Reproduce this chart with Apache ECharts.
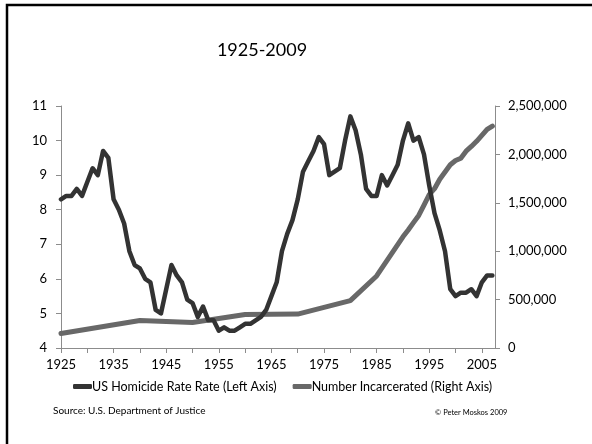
<!DOCTYPE html>
<html>
<head>
<meta charset="utf-8">
<title>1925-2009</title>
<script src="https://cdn.jsdelivr.net/npm/echarts@6/dist/echarts.min.js"></script>
<style>
  html, body { margin: 0; padding: 0; background: #fff; }
  #chart { width: 592px; height: 444px; }
</style>
</head>
<body>
<div id="chart"></div>
<script>
/* Homicide rate per 100,000, yearly */
const homicideYears = [
  1925, 1926, 1927, 1928, 1929, 1930, 1931, 1932, 1933, 1934,
  1935, 1936, 1937, 1938, 1939, 1940, 1941, 1942, 1943, 1944,
  1945, 1946, 1947, 1948, 1949, 1950, 1951, 1952, 1953, 1954,
  1955, 1956, 1957, 1958, 1959, 1960, 1961, 1962, 1963, 1964,
  1965, 1966, 1967, 1968, 1969, 1970, 1971, 1972, 1973, 1974,
  1975, 1976, 1977, 1978, 1979, 1980, 1981, 1982, 1983, 1984,
  1985, 1986, 1987, 1988, 1989, 1990, 1991, 1992, 1993, 1994,
  1995, 1996, 1997, 1998, 1999, 2000, 2001, 2002, 2003, 2004,
  2005, 2006, 2007
];
const homicideRate = [
  8.3, 8.4, 8.4, 8.6, 8.4, 8.8, 9.2, 9.0, 9.7, 9.5,
  8.3, 8.0, 7.6, 6.8, 6.4, 6.3, 6.0, 5.9, 5.1, 5.0,
  5.7, 6.4, 6.1, 5.9, 5.4, 5.3, 4.9, 5.2, 4.8, 4.8,
  4.5, 4.6, 4.5, 4.5, 4.6, 4.7, 4.7, 4.8, 4.9, 5.1,
  5.5, 5.9, 6.8, 7.3, 7.7, 8.3, 9.1, 9.4, 9.7, 10.1,
  9.9, 9.0, 9.1, 9.2, 10.0, 10.7, 10.3, 9.6, 8.6, 8.4,
  8.4, 9.0, 8.7, 9.0, 9.3, 10.0, 10.5, 10.0, 10.1, 9.6,
  8.7, 7.9, 7.4, 6.8, 5.7, 5.5, 5.6, 5.6, 5.7, 5.5,
  5.9, 6.1, 6.1
];

/* Number incarcerated (prison + jail) */
const incarceratedYears = [
  1925, 1940, 1950, 1960, 1970, 1980, 1985,
  1990, 1991, 1992, 1993, 1994, 1995, 1996, 1997, 1998, 1999,
  2000, 2001, 2002, 2003, 2004, 2005, 2006, 2007
];
const incarcerated = [
  150000, 285000, 264000, 346000, 350000, 490000, 744000,
  1149000, 1219000, 1295000, 1369000, 1477000, 1585000, 1646000, 1744000, 1817000, 1893000,
  1937000, 1961000, 2033000, 2082000, 2135000, 2196000, 2259000, 2293000
];

const xTickLabels = ['1925', '1935', '1945', '1955', '1965', '1975', '1985', '1995', '2005'];

const seriesNames = ['US Homicide Rate Rate (Left Axis)', 'Number Incarcerated (Right Axis)'];

const FONT = 'Lato, "Noto Sans", sans-serif';
const AXIS_GRAY = '#8c8c8c';

const chart = echarts.init(document.getElementById('chart'), null, { renderer: 'canvas' });

const pairs = (xs, ys) => xs.map((x, i) => [x, ys[i]]);

chart.setOption({
  animation: false,
  textStyle: { fontFamily: FONT, color: '#000' },
  title: {
    text: '1925-2009',
    left: 257,
    top: 36,
    textAlign: 'center',
    textStyle: { fontFamily: FONT, fontSize: 18, fontWeight: 'normal', color: '#000' }
  },
  legend: {
    data: seriesNames,
    left: 68,
    top: 375,
    icon: 'roundRect',
    itemWidth: 19,
    itemHeight: 5,
    itemGap: 16,
    textStyle: { fontFamily: FONT, fontSize: 12.5, color: '#000', padding: [0, 0, 0, -5] }
  },
  grid: { left: 61, right: 97, top: 106, bottom: 96 },
  xAxis: {
    type: 'value',
    min: 1925,
    max: 2007.5,
    interval: 5,
    splitLine: { show: false },
    axisLine: { lineStyle: { color: AXIS_GRAY, width: 1 } },
    axisTick: { length: 5, lineStyle: { color: AXIS_GRAY } },
    axisLabel: {
      margin: 10,
      fontFamily: FONT,
      fontSize: 13,
      color: '#000',
      showMaxLabel: false,
      formatter: (v) => (xTickLabels.includes(String(v)) ? String(v) : '')
    }
  },
  yAxis: [
    {
      type: 'value',
      min: 4,
      max: 11,
      interval: 1,
      splitLine: { show: false },
      axisLine: { show: true, lineStyle: { color: AXIS_GRAY, width: 1 } },
      axisTick: { show: true, length: 5, lineStyle: { color: AXIS_GRAY } },
      axisLabel: { margin: 14, fontFamily: FONT, fontSize: 13, color: '#000' }
    },
    {
      type: 'value',
      min: 0,
      max: 2500000,
      interval: 500000,
      position: 'right',
      splitLine: { show: false },
      axisLine: { show: true, lineStyle: { color: AXIS_GRAY, width: 1 } },
      axisTick: { show: true, length: 5, lineStyle: { color: AXIS_GRAY } },
      axisLabel: {
        margin: 13,
        fontFamily: FONT,
        fontSize: 13,
        color: '#000',
        formatter: (v) => v.toLocaleString('en-US')
      }
    }
  ],
  series: [
    {
      name: seriesNames[0],
      type: 'line',
      yAxisIndex: 0,
      data: pairs(homicideYears, homicideRate),
      showSymbol: false,
      symbol: 'none',
      z: 3,
      color: '#333333',
      lineStyle: { color: '#333333', width: 4.5, cap: 'round', join: 'round' }
    },
    {
      name: seriesNames[1],
      type: 'line',
      yAxisIndex: 1,
      data: pairs(incarceratedYears, incarcerated),
      showSymbol: false,
      symbol: 'none',
      z: 2,
      color: '#686868',
      lineStyle: { color: '#686868', width: 5, cap: 'round', join: 'round' }
    }
  ],
  graphic: [
    {
      type: 'polyline',
      shape: { points: [[7, 444], [7, 5], [592, 5]] },
      style: { stroke: '#000', lineWidth: 2.5, fill: null }
    },
    {
      type: 'text',
      left: 53,
      top: 406,
      style: { text: 'Source: U.S. Department of Justice', font: '10px ' + FONT, fill: '#000' }
    },
    {
      type: 'text',
      left: 435,
      top: 409,
      style: { text: '\u00a9 Peter Moskos 2009', font: '7.5px ' + FONT, fill: '#000' }
    }
  ]
});
</script>
</body>
</html>
